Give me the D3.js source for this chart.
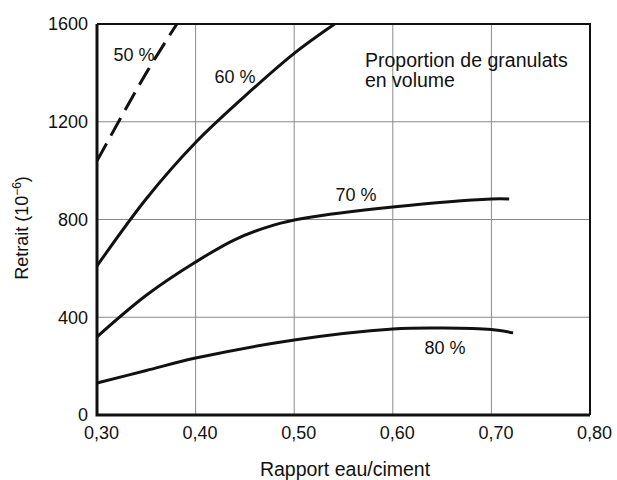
<!DOCTYPE html>
<html>
<head>
<meta charset="utf-8">
<script src="https://cdn.jsdelivr.net/npm/d3@7"></script>
<style>
  body { margin: 0; background: #fff; }
  svg { display: block; font-family: "Liberation Sans", Arial, sans-serif; }
</style>
</head>
<body>
<svg id="chart" width="617" height="480"></svg>
<script>
// water/cement ratio vs shrinkage, one curve per aggregate proportion
var xTicks = [0.30, 0.40, 0.50, 0.60, 0.70, 0.80];
var yTicks = [0, 400, 800, 1200, 1600];

var ratio50 = [0.30, 0.35, 0.381];
var shrink50 = [1040, 1400, 1600];

var ratio60 = [0.30, 0.35, 0.40, 0.45, 0.50, 0.541];
var shrink60 = [610, 885, 1115, 1305, 1480, 1600];

var ratio70 = [0.30, 0.35, 0.40, 0.44, 0.48, 0.51, 0.60, 0.70, 0.718];
var shrink70 = [320, 490, 626, 718, 778, 805, 851, 884, 884];

var ratio80 = [0.30, 0.35, 0.40, 0.50, 0.60, 0.651, 0.70, 0.722];
var shrink80 = [131, 182, 233, 307, 352, 356, 350, 336];

var curveNames = ['50 %', '60 %', '70 %', '80 %'];
var labelX = [0.3375, 0.44, 0.5627, 0.653];
var labelY = [1473, 1383, 900, 274];

var noteLines = ['Proportion de granulats', 'en volume'];

var margin = { top: 24, right: 27, bottom: 65, left: 97 };
var width = 617 - margin.left - margin.right;
var height = 480 - margin.top - margin.bottom;

var svg = d3.select('#chart');
var g = svg.append('g').attr('transform', 'translate(' + margin.left + ',' + margin.top + ')');

var x = d3.scaleLinear().domain([0.30, 0.80]).range([0, width]);
var y = d3.scaleLinear().domain([0, 1600]).range([height, 0]);

// grid
g.append('g').selectAll('line')
    .data(xTicks.slice(1, -1))
    .enter().append('line')
    .attr('x1', d => x(d)).attr('x2', d => x(d))
    .attr('y1', 0).attr('y2', height)
    .attr('stroke', '#8a8a8a').attr('stroke-width', 1);

g.append('g').selectAll('line')
    .data(yTicks.slice(1, -1))
    .enter().append('line')
    .attr('x1', 0).attr('x2', width)
    .attr('y1', d => y(d)).attr('y2', d => y(d))
    .attr('stroke', '#8a8a8a').attr('stroke-width', 1);

// frame: top/right thinner than the axes
g.append('path')
    .attr('d', 'M0,0H' + width + 'V' + height)
    .attr('fill', 'none').attr('stroke', '#111').attr('stroke-width', 2);

// axes with labels only
var fmt = d => d.toFixed(2).replace('.', ',');

var xAxis = g.append('g')
    .attr('transform', 'translate(0,' + height + ')')
    .call(d3.axisBottom(x).tickValues(xTicks).tickFormat(fmt).tickSize(0).tickPadding(11));
xAxis.select('.domain').remove();
xAxis.selectAll('text')
    .attr('font-size', 18).attr('fill', '#111')
    .attr('font-family', '"Liberation Sans", Arial, sans-serif')
    .attr('dx', 4);

var yAxis = g.append('g')
    .call(d3.axisLeft(y).tickValues(yTicks).tickFormat(d3.format('d')).tickSize(0).tickPadding(9));
yAxis.select('.domain').remove();
yAxis.selectAll('text')
    .attr('font-size', 18).attr('fill', '#111')
    .attr('font-family', '"Liberation Sans", Arial, sans-serif');

g.append('path')
    .attr('d', 'M0,0V' + height + 'H' + width)
    .attr('fill', 'none').attr('stroke', '#111').attr('stroke-width', 3);

// curves
var line = d3.line()
    .x(d => x(d[0]))
    .y(d => y(d[1]))
    .curve(d3.curveCatmullRom.alpha(0.5));

function pairs(xs, ys) {
    return xs.map(function (v, i) { return [v, ys[i]]; });
}

var series = [
    { pts: pairs(ratio50, shrink50), dash: '20,9' },
    { pts: pairs(ratio60, shrink60), dash: null },
    { pts: pairs(ratio70, shrink70), dash: null },
    { pts: pairs(ratio80, shrink80), dash: null }
];

g.selectAll('.curve')
    .data(series)
    .enter().append('path')
    .attr('class', 'curve')
    .attr('d', d => line(d.pts))
    .attr('fill', 'none')
    .attr('stroke', '#111')
    .attr('stroke-width', 3)
    .attr('stroke-dasharray', d => d.dash);

// curve labels
g.selectAll('.lbl')
    .data(curveNames)
    .enter().append('text')
    .attr('class', 'lbl')
    .attr('x', (d, i) => x(labelX[i]))
    .attr('y', (d, i) => y(labelY[i]))
    .attr('dy', '0.35em')
    .attr('text-anchor', 'middle')
    .attr('font-size', 18)
    .attr('fill', '#111')
    .text(d => d);

g.selectAll('.note')
    .data(noteLines)
    .enter().append('text')
    .attr('class', 'note')
    .attr('x', x(0.5718))
    .attr('y', (d, i) => y(1453) + i * 20)
    .attr('dy', '0.35em')
    .attr('font-size', 19.5)
    .attr('fill', '#111')
    .text(d => d);

// axis titles
svg.append('text')
    .attr('x', 345).attr('y', 476)
    .attr('text-anchor', 'middle')
    .attr('font-size', 19.5).attr('fill', '#111')
    .text('Rapport eau/ciment');

var yt = svg.append('text')
    .attr('transform', 'translate(28,228) rotate(-90)')
    .attr('text-anchor', 'middle')
    .attr('font-size', 18).attr('fill', '#111');
yt.append('tspan').text('Retrait (10');
yt.append('tspan').attr('font-size', 12).attr('dy', -7).text('−6');
yt.append('tspan').attr('dy', 7).text(')');
</script>
</body>
</html>
